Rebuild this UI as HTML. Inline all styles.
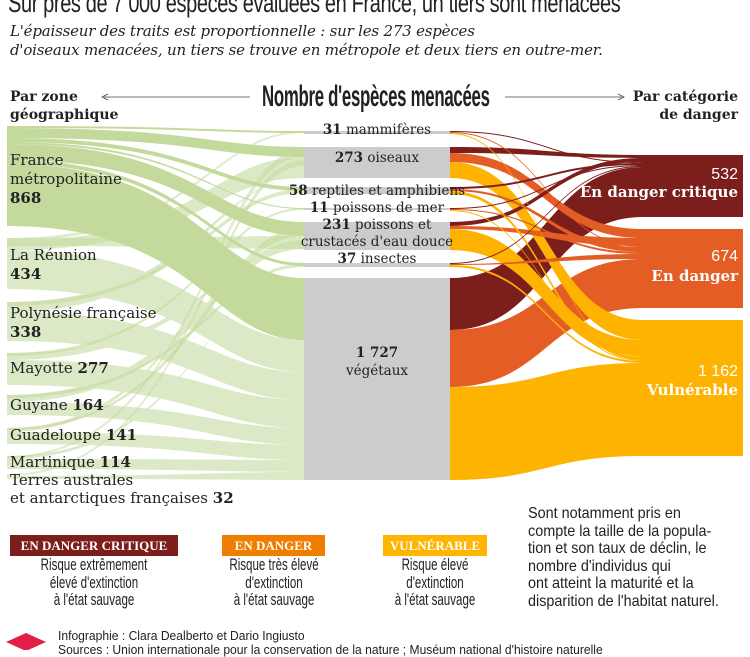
<!DOCTYPE html>
<html><head><meta charset="utf-8">
<style>
html,body{margin:0;padding:0;background:#fff;}
body{width:750px;height:650px;overflow:hidden;position:relative;font-family:"DejaVu Serif",serif;color:#222;}
.a{position:absolute;white-space:nowrap;}
.cond{font-family:"Liberation Sans",sans-serif;}
.lg{position:absolute;text-align:center;font-family:"Liberation Sans",sans-serif;font-size:17px;line-height:17.5px;color:#222;transform:scaleX(0.68);transform-origin:50% 0;}
.tag{position:absolute;color:#fff;font-weight:bold;font-size:13px;text-align:center;line-height:21px;font-family:"Liberation Serif",serif;}
</style></head><body>
<div class="a cond" style="left:8px;top:-12px;font-size:27px;transform:scaleX(0.74);transform-origin:left top;letter-spacing:-0.5px;">Sur près de 7 000 espèces évaluées en France, un tiers sont menacées</div>
<div class="a" style="left:10px;top:22px;font-size:15px;font-style:italic;line-height:19px;letter-spacing:-0.2px;">L'épaisseur des traits est proportionnelle : sur les 273 espèces<br>d'oiseaux menacées, un tiers se trouve en métropole et deux tiers en outre-mer.</div>

<svg width="750" height="650" style="position:absolute;left:0;top:0" id="s">
<line x1="104" y1="97" x2="250" y2="97" stroke="#444" stroke-width="0.8"/>
<path d="M108,94 L102,97 L108,100" fill="none" stroke="#444" stroke-width="0.8"/>
<line x1="505" y1="97" x2="622" y2="97" stroke="#444" stroke-width="0.8"/>
<path d="M618,94 L624,97 L618,100" fill="none" stroke="#444" stroke-width="0.8"/>
<g id="flows"></g>
<rect x="304" y="131" width="146" height="3" fill="#cccccc"/>
<rect x="304" y="147" width="146" height="31" fill="#cccccc"/>
<rect x="304" y="187" width="146" height="7" fill="#cccccc"/>
<rect x="304" y="208" width="146" height="2" fill="#cccccc"/>
<rect x="304" y="222" width="146" height="28" fill="#cccccc"/>
<rect x="304" y="263" width="146" height="4" fill="#cccccc"/>
<rect x="304" y="278" width="146" height="202" fill="#cccccc"/>
<rect x="643" y="155" width="100" height="62" fill="#7b1e1c"/>
<rect x="643" y="229" width="100" height="79" fill="#e35d24"/>
<rect x="643" y="320" width="100" height="136" fill="#fdb300"/>
<path d="M6,642 L26,633 L46,642 L26,651 Z" fill="#e31e46"/>
</svg>

<div class="a" style="left:10px;top:88px;font-size:14px;font-weight:bold;line-height:18px;">Par zone<br>géographique</div>
<div class="a" style="right:12px;top:88px;font-size:14px;font-weight:bold;line-height:18px;text-align:right;">Par catégorie<br>de danger</div>
<div class="a cond" style="left:262px;top:80px;font-size:30px;font-weight:bold;transform:scaleX(0.56);transform-origin:left top;letter-spacing:-0.5px;">Nombre d'espèces menacées</div>

<div class="a" style="left:10px;top:151px;font-size:15px;line-height:19px;">France<br>métropolitaine<br><b>868</b></div>
<div class="a" style="left:10px;top:246px;font-size:15px;line-height:19px;">La Réunion<br><b>434</b></div>
<div class="a" style="left:10px;top:304px;font-size:15px;line-height:19px;">Polynésie française<br><b>338</b></div>
<div class="a" style="left:10px;top:359px;font-size:15px;">Mayotte <b>277</b></div>
<div class="a" style="left:10px;top:396px;font-size:15px;">Guyane <b>164</b></div>
<div class="a" style="left:10px;top:426px;font-size:15px;">Guadeloupe <b>141</b></div>
<div class="a" style="left:10px;top:453px;font-size:15px;line-height:18px;">Martinique <b>114</b><br>Terres australes<br>et antarctiques françaises <b>32</b></div>

<div class="a" style="left:277px;width:200px;text-align:center;top:122px;font-size:13.5px;"><b>31</b> mammifères</div>
<div class="a" style="left:277px;width:200px;text-align:center;top:150px;font-size:13.5px;"><b>273</b> oiseaux</div>
<div class="a" style="left:277px;width:200px;text-align:center;top:183px;font-size:13.5px;line-height:17px;"><b>58</b> reptiles et amphibiens<br><b>11</b> poissons de mer<br><b>231</b> poissons et<br>crustacés d'eau douce<br><b>37</b> insectes</div>
<div class="a" style="left:304px;width:146px;text-align:center;top:344px;font-size:13.5px;line-height:18px;"><b>1 727</b><br>végétaux</div>

<div class="a" style="right:12px;top:165px;font-size:16px;color:#fff;text-align:right;line-height:19px;font-family:'Liberation Sans',sans-serif;">532</div>
<div class="a" style="right:12px;top:183px;font-size:15px;color:#fff;font-weight:bold;text-align:right;">En danger critique</div>
<div class="a" style="right:12px;top:248px;font-size:16px;color:#fff;text-align:right;font-family:'Liberation Sans',sans-serif;">674</div>
<div class="a" style="right:12px;top:267px;font-size:15px;color:#fff;font-weight:bold;text-align:right;">En danger</div>
<div class="a" style="right:12px;top:363px;font-size:16px;color:#fff;text-align:right;font-family:'Liberation Sans',sans-serif;">1 162</div>
<div class="a" style="right:12px;top:381px;font-size:15px;color:#fff;font-weight:bold;text-align:right;">Vulnérable</div>

<div class="tag" style="left:10px;top:535px;width:168px;background:#7b1e1c;">EN DANGER CRITIQUE</div>
<div class="tag" style="left:222px;top:535px;width:103px;background:#ee7d00;">EN DANGER</div>
<div class="tag" style="left:383px;top:535px;width:104px;background:#ffb400;">VULNÉRABLE</div>
<div class="lg" style="left:0px;width:188px;top:556px;">Risque extrêmement<br>élevé d'extinction<br>à l'état sauvage</div>
<div class="lg" style="left:198px;width:152px;top:556px;">Risque très élevé<br>d'extinction<br>à l'état sauvage</div>
<div class="lg" style="left:360px;width:150px;top:556px;">Risque élevé<br>d'extinction<br>à l'état sauvage</div>
<div class="a cond" style="left:528px;top:505px;font-size:16px;line-height:17.5px;transform:scaleX(0.9);transform-origin:left top;">Sont notamment pris en<br>compte la taille de la popula-<br>tion et son taux de déclin, le<br>nombre d'individus qui<br>ont atteint la maturité et la<br>disparition de l'habitat naturel.</div>
<div class="a cond" style="left:58px;top:628px;font-size:13px;transform:scaleX(0.93);transform-origin:left top;">Infographie : Clara Dealberto et Dario Ingiusto</div>
<div class="a cond" style="left:58px;top:642px;font-size:13px;transform:scaleX(0.93);transform-origin:left top;">Sources : Union internationale pour la conservation de la nature ; Muséum national d'histoire naturelle</div>

<script>
var g=document.getElementById('flows');
function rib(x0,a0,b0,x1,a1,b1,c,o,c0,c1){
 var m=(x0+x1)/2;c0=c0||m;c1=c1||m;
 var d='M'+x0+','+a0+' C'+c0+','+a0+' '+c1+','+a1+' '+x1+','+a1+' L'+x1+','+b1+' C'+c1+','+b1+' '+c0+','+b0+' '+x0+','+b0+' Z';
 var p=document.createElementNS('http://www.w3.org/2000/svg','path');
 p.setAttribute('d',d);p.setAttribute('fill',c);if(o)p.setAttribute('fill-opacity',o);g.appendChild(p);
}
var G1='#c3da9c',G2='#dce9c6';
function L(y0a,y0b,y1a,y1b,c,o){rib(7,y0a,y0b,304,y1a,y1b,c,o,200,210);}
L(250,289,340,372,G2);L(312,341,372,400,G2);L(360,385,400,428,G2);L(402,415,428,445,G2);
L(432,444,445,460,G2);L(459,469,460,472,G2);L(476,479,472,480,G2);
L(238,241,131,133,G2,0.9);L(241,250,157,178,G2);L(302,312,178,178,G2);
L(353,360,250,250,G2);L(395,402,240,249,G2);L(428,432,194,194,G2);L(456,459,266,266,G2);
L(238,246,236,249,G1,0.6);L(302,306,189,193,G1,0.6);L(353,356,208,210,G1,0.6);L(395,398,264,267,G1,0.6);
L(428,430,228,236,G1,0.6);L(456,458,150,157,G1,0.5);L(474,476,160,166,G1,0.5);
L(126,128,131,133,G1);L(128,138,147,157,G1);L(138,142,187,191,G1);L(142,144,208,209,G1);
L(144,160,222,236,G1);L(160,164,263,266,G1);L(164,226,278,340,G1);
var DK='#7b1e1c',OR='#e35d24',YE='#fdb300';
function R(y0a,y0b,y1a,y1b,c){rib(450,y0a,y0b,643,y1a,y1b,c);}
R(278,330,167,217,DK);R(330,387,259,308,OR);R(387,480,363,456,YE);
R(147,153,155,158,DK);R(153,162,229,238,OR);R(162,178,320,340,YE);
R(222,226,158,162,DK);R(226,229,238,246,OR);R(229,250,340,356,YE);
R(131,132,162,163,DK);R(132,133,246,247,OR);R(133,134,356,357,YE);
R(187,189,163,165,DK);R(189,191,247,252,OR);R(191,194,357,360,YE);
R(208,209,165,166,DK);R(209,210,252,254,OR);R(210,211,360,361,YE);
R(263,264,166,167,DK);R(264,265,254,259,OR);R(265,267,361,363,YE);
</script>
</body></html>
